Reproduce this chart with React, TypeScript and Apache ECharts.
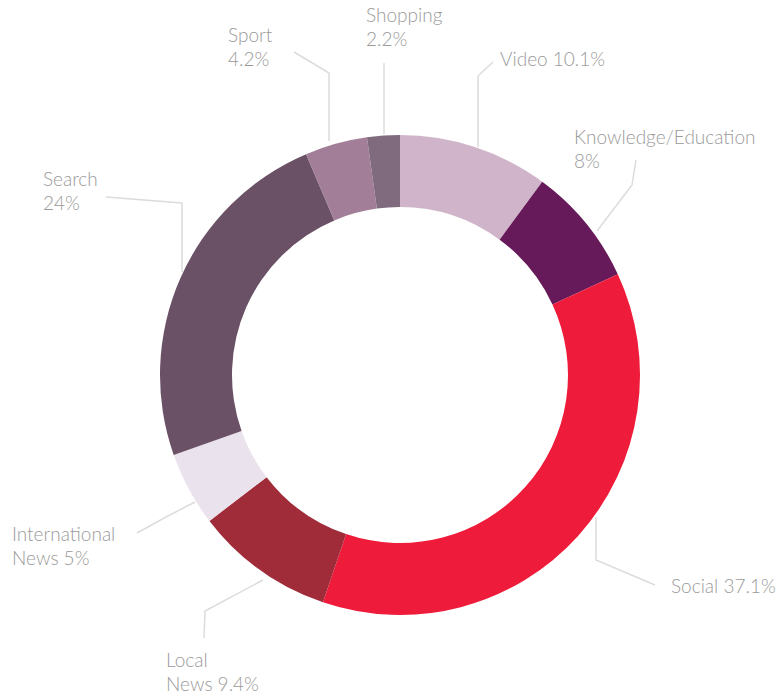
import React, { useEffect, useRef } from "react";
import * as echarts from "echarts";

const categories = ["Video", "Knowledge/Education", "Social", "Local News", "International News", "Search", "Sport", "Shopping"];
const values = [10.1, 8, 37.1, 9.4, 5, 24, 4.2, 2.2];
const colors = ["#D0B5CA", "#661A5A", "#EE1B3A", "#A02C3A", "#EAE2EC", "#6B5166", "#A27E98", "#806A7E"];
// how each label breaks: "inline" = one line, "value" = value on 2nd line, "word" = break after first word
const labelBreaks = ["inline", "value", "inline", "word", "word", "value", "value", "value"];

// label box top-left and leader line points (pixels)
const labelLayoutSpec = [
  { x: 500, y: 46, pts: [[478, 147], [478, 76], [493, 62]] },
  { x: 574, y: 124, pts: [[597, 231], [632, 185], [636, 160]] },
  { x: 671, y: 573, pts: [[596, 517], [596, 560], [655, 585]] },
  { x: 166, y: 647, pts: [[263, 580], [205, 611], [204, 638]] },
  { x: 12, y: 521, pts: [[195, 502], [166, 517], [137, 533]] },
  { x: 43, y: 166, pts: [[182, 272], [182, 203], [106, 197]] },
  { x: 228, y: 22, pts: [[329, 141], [329, 73], [294, 52]] },
  { x: 366, y: 2, pts: [[384, 134], [384, 98], [384, 63]] },
];

function labelText(i: number): string {
  const name = categories[i];
  const v = values[i] + "%";
  const mode = labelBreaks[i];
  if (mode === "inline") return name + " " + v;
  if (mode === "value") return name + "\n" + v;
  const sp = name.indexOf(" ");
  return name.slice(0, sp) + "\n" + name.slice(sp + 1) + " " + v;
}

export default function App() {
  const ref = useRef<HTMLDivElement>(null);
  useEffect(() => {
    if (!ref.current) return;
    const chart = echarts.init(ref.current, null, { renderer: "svg" });
    chart.setOption({
      animation: false,
      backgroundColor: "#ffffff",
      series: [
        {
          type: "pie",
          center: [400, 375],
          radius: [168, 240],
          startAngle: 90,
          clockwise: true,
          silent: true,
          data: categories.map((c, i) => ({
            name: c,
            value: values[i],
            itemStyle: { color: colors[i] },
          })),
          label: {
            show: true,
            formatter: (p: any) => labelText(p.dataIndex),
            color: "#9a9a9a",
            fontFamily: "Lato",
            fontWeight: 300,
            fontSize: 19,
            lineHeight: 24,
            overflow: "none",
            width: 260,
          },
          labelLine: {
            show: true,
            smooth: false,
            lineStyle: { color: "#dcdcdc", width: 1.5 },
          },
          labelLayout: (params: any) => {
            const s = labelLayoutSpec[params.dataIndex];
            return {
              x: s.x,
              y: s.y,
              align: "left",
              verticalAlign: "top",
              labelLinePoints: s.pts,
            };
          },
        },
      ],
    });
    return () => chart.dispose();
  }, []);
  return (
    <div
      ref={ref}
      style={{ position: "fixed", left: 0, top: 0, width: 776, height: 697 }}
    />
  );
}
